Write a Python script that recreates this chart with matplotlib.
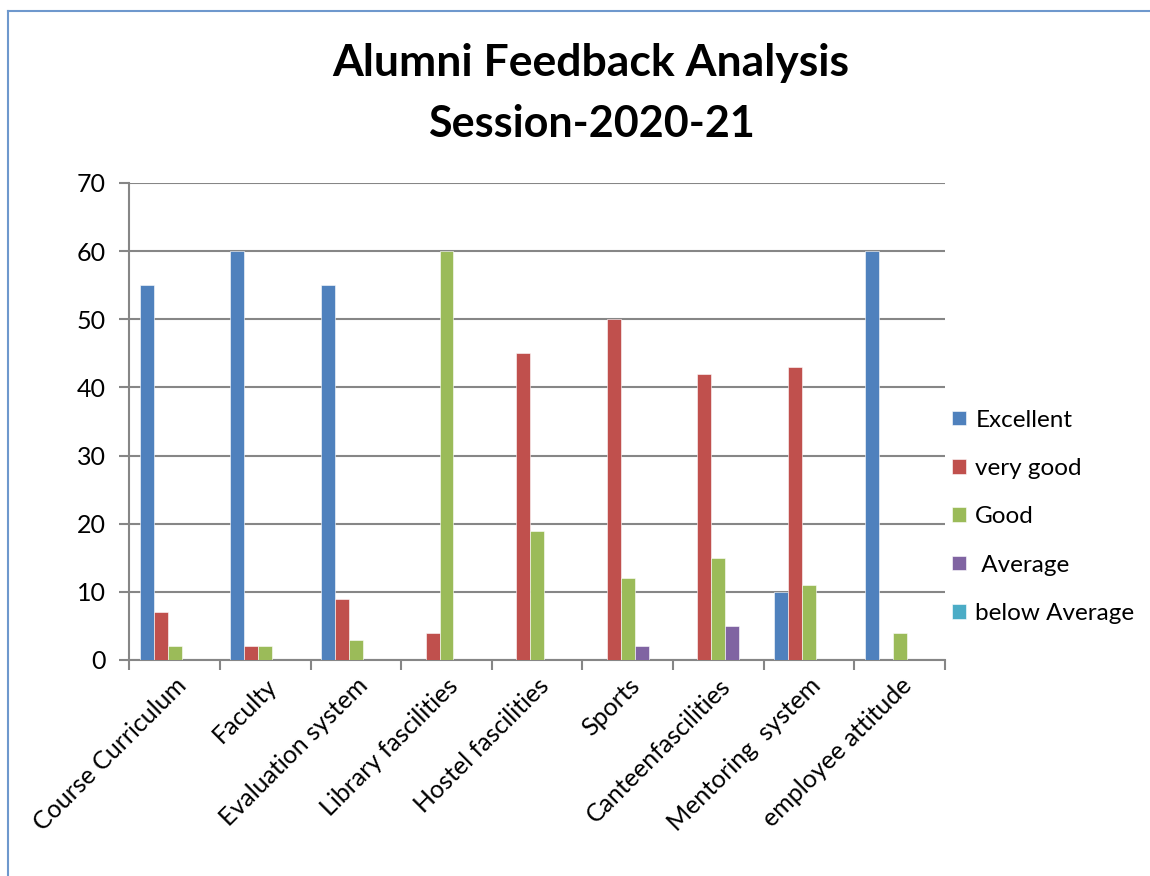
import matplotlib
matplotlib.use("Agg")
import matplotlib.pyplot as plt
from matplotlib.lines import Line2D
import numpy as np

categories = ["Course Curriculum", "Faculty", "Evaluation system", "Library fascilities",
              "Hostel fascilities", "Sports", "Canteenfascilities", "Mentoring  system",
              "employee attitude"]
series_names = ["Excellent", "very good", "Good", " Average", "below Average"]
excellent = [55, 60, 55, 0, 0, 0, 0, 10, 60]
very_good = [7, 2, 9, 4, 45, 50, 42, 43, 0]
good = [2, 2, 3, 60, 19, 12, 15, 11, 4]
average = [0, 0, 0, 0, 0, 2, 5, 0, 0]
below_average = [0, 0, 0, 0, 0, 0, 0, 0, 0]
colors = ["#4F81BD", "#C0504D", "#9BBB59", "#8064A2", "#4BACC6"]
yticks = [0, 10, 20, 30, 40, 50, 60, 70]

plt.rcParams['font.family'] = ['Lato', 'DejaVu Sans']

fig = plt.figure(figsize=(11.5, 8.76), dpi=100)
ax = fig.add_axes([0.1124, 0.2466, 0.7093, 0.5445])

data = [excellent, very_good, good, average, below_average]
x = np.arange(len(categories))
w = 1 / 6.5
for i, (vals, name, c) in enumerate(zip(data, series_names, colors)):
    ax.bar(x + (i - 2) * w, vals, width=w, color=c, label=name, zorder=3,
           edgecolor='white', linewidth=0.4)

ax.set_xlim(-0.5, len(categories) - 0.5)
ax.set_ylim(0, 70)
ax.set_yticks(yticks)
ax.set_yticklabels([str(v) for v in yticks], fontsize=18)
ax.yaxis.grid(True, color="#868686", linewidth=1.5, zorder=0)
ax.set_axisbelow(True)

ax.set_xticks(np.arange(len(categories) + 1) - 0.5, minor=False)
ax.set_xticklabels([])
ax.set_xticks(x, minor=True)
ax.set_xticklabels(categories, minor=True, rotation=45, ha='right',
                   rotation_mode='anchor', fontsize=18)
ax.tick_params(axis='x', which='minor', length=0, pad=10)
ax.tick_params(axis='x', which='major', length=7, width=1.5, color="#868686")
ax.tick_params(axis='y', length=7, width=1.5, color="#868686", pad=10)

for s in ['top', 'right']:
    ax.spines[s].set_visible(False)
for s in ['left', 'bottom']:
    ax.spines[s].set_color("#868686")
    ax.spines[s].set_linewidth(1.5)

fig.text(0.514, 0.928, "Alumni Feedback Analysis", ha='center', va='center',
         fontsize=32, fontweight='bold')
fig.text(0.514, 0.859, "Session-2020-21", ha='center', va='center',
         fontsize=31, fontweight='bold')

leg = ax.legend(loc='center left', bbox_to_anchor=(0.988, 0.30), frameon=False,
                fontsize=17.5, handlelength=0.55, handleheight=0.55,
                labelspacing=1.125, handletextpad=0.4, borderaxespad=0.3)

fig.add_artist(Line2D([8 / 1150, 8 / 1150], [0, 1 - 11 / 876], color="#6E98CD",
                      linewidth=1.5, transform=fig.transFigure))
fig.add_artist(Line2D([8 / 1150, 1], [1 - 11 / 876, 1 - 11 / 876], color="#6E98CD",
                      linewidth=1.5, transform=fig.transFigure))

fig.savefig("out.png", dpi=100)
